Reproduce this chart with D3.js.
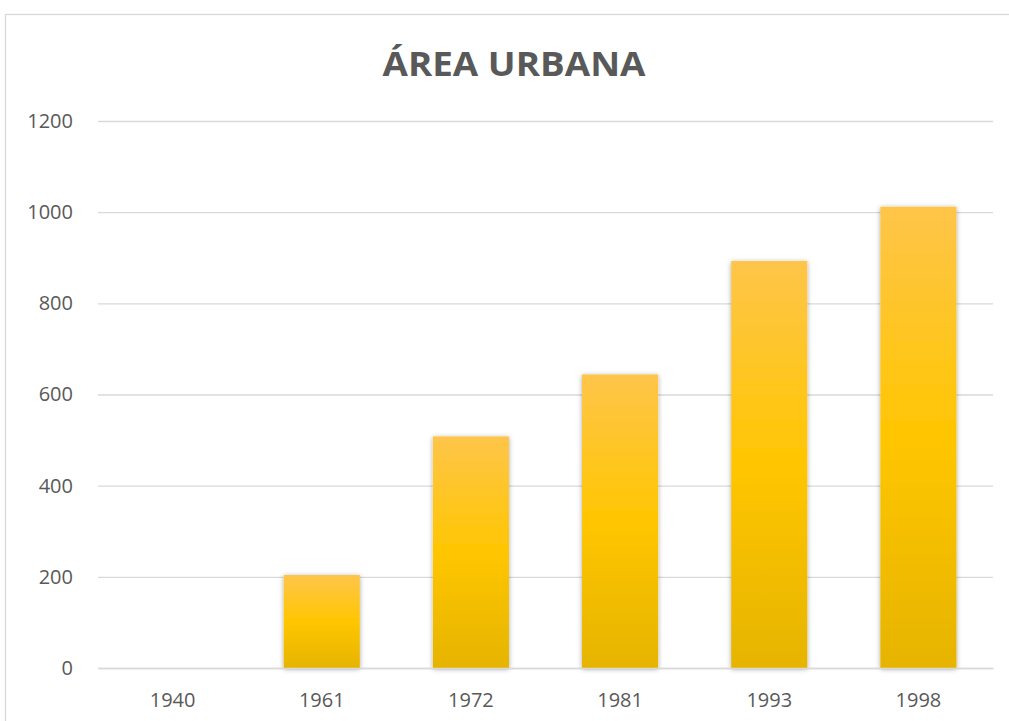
<!DOCTYPE html>
<meta charset="utf-8">
<style>
body { margin: 0; background: #fff; }
.grid line { stroke: #d9d9d9; stroke-width: 1.3px; }
.grid path { display: none; }
.axisy text, .axisx text { fill: #595959; font-family: "Open Sans", sans-serif; font-size: 20px; }
.axisy path, .axisy line, .axisx line { display: none; }
.axisx path { stroke: #d9d9d9; stroke-width: 1.3px; }
</style>
<body>
<script src="https://d3js.org/d3.v7.min.js"></script>
<script>
// data
var years = ["1940", "1961", "1972", "1981", "1993", "1998"];
var area = [0, 204, 508, 644, 893, 1012];
var yTicks = [0, 200, 400, 600, 800, 1000, 1200];

var W = 1009, H = 721;
var margin = {top: 121, left: 98},
    width = 993 - margin.left,
    height = 668 - margin.top;

var svg = d3.select("body").append("svg")
    .attr("width", W)
    .attr("height", H);

var defs = svg.append("defs");
var grad = defs.append("linearGradient")
    .attr("id", "barGrad")
    .attr("x1", 0).attr("y1", 0).attr("x2", 0).attr("y2", 1);
grad.append("stop").attr("offset", "0%").attr("stop-color", "#fec54a");
grad.append("stop").attr("offset", "50%").attr("stop-color", "#ffc601");
grad.append("stop").attr("offset", "100%").attr("stop-color", "#e6b400");

var shadow = defs.append("filter").attr("id", "shadow")
    .attr("x", "-20%").attr("y", "-10%").attr("width", "140%").attr("height", "120%");
shadow.append("feDropShadow")
    .attr("dx", 0).attr("dy", 1).attr("stdDeviation", 2.5)
    .attr("flood-color", "#000").attr("flood-opacity", 0.35);

// chart frame
svg.append("rect")
    .attr("x", 5.5).attr("y", 14.5)
    .attr("width", W + 10).attr("height", H + 10)
    .attr("fill", "none")
    .attr("stroke", "#d9d9d9")
    .attr("stroke-width", 1.3);

var g = svg.append("g")
    .attr("transform", "translate(" + margin.left + "," + margin.top + ")");

var x = d3.scaleBand()
    .domain(years)
    .range([0, width])
    .paddingInner(0.49)
    .paddingOuter(0.245);

var y = d3.scaleLinear()
    .domain([0, 1200])
    .range([height, 0]);

// gridlines
g.append("g")
    .attr("class", "grid")
    .call(d3.axisLeft(y).tickValues(yTicks).tickSize(-width).tickFormat(""));

// bars
g.selectAll(".bar")
    .data(area)
    .enter().append("rect")
    .attr("class", "bar")
    .attr("x", function(d, i) { return x(years[i]); })
    .attr("width", x.bandwidth())
    .attr("y", function(d) { return y(d); })
    .attr("height", function(d) { return height - y(d); })
    .attr("fill", "url(#barGrad)")
    .attr("filter", function(d) { return d > 0 ? "url(#shadow)" : null; });

// x axis
g.append("g")
    .attr("class", "axisx")
    .attr("transform", "translate(0," + height + ")")
    .call(d3.axisBottom(x).tickSize(0).tickPadding(25).tickSizeOuter(0));

// y axis
g.append("g")
    .attr("class", "axisy")
    .call(d3.axisLeft(y).tickValues(yTicks).tickFormat(d3.format("d")).tickSize(0).tickPadding(25));

// title
svg.append("text")
    .attr("x", 514)
    .attr("y", 76)
    .attr("text-anchor", "middle")
    .attr("textLength", 263)
    .attr("lengthAdjust", "spacingAndGlyphs")
    .style("font-family", "'Open Sans', sans-serif")
    .style("font-weight", "bold")
    .style("font-size", "34px")
    .style("fill", "#595959")
    .text("ÁREA URBANA");
</script>
</body>
